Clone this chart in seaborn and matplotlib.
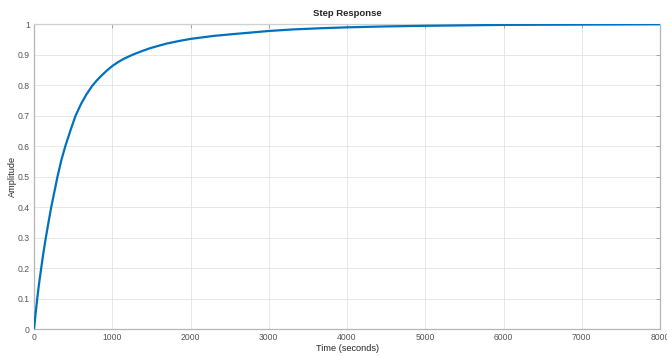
import seaborn as sns
import matplotlib.pyplot as plt
import pandas as pd

time_s = [0, 20, 41, 65, 92, 120, 151, 185, 220, 260, 300, 350, 400, 470, 531,
          600, 670, 744, 800, 860, 930, 1000, 1075, 1150, 1225, 1298, 1400,
          1490, 1600, 1700, 1850, 2000, 2300, 2555, 3000, 3300, 3664, 4000,
          4500, 5000, 5500, 6000, 7000, 8000]
amplitude = [0, 0.05, 0.10, 0.15, 0.20, 0.25, 0.30, 0.35, 0.40, 0.45, 0.50,
             0.555, 0.60, 0.655, 0.70, 0.738, 0.770, 0.798, 0.815, 0.831,
             0.848, 0.863, 0.876, 0.887, 0.896, 0.904, 0.914, 0.922, 0.930,
             0.937, 0.945, 0.952, 0.962, 0.968, 0.978, 0.983, 0.987, 0.990,
             0.993, 0.995, 0.9965, 0.998, 0.999, 1.0]
x_ticks = [0, 1000, 2000, 3000, 4000, 5000, 6000, 7000, 8000]
y_ticks = [0, 0.1, 0.2, 0.3, 0.4, 0.5, 0.6, 0.7, 0.8, 0.9, 1]
final_value = 1.0

df = pd.DataFrame({"Time": time_s, "Amplitude": amplitude})

sns.set_style("whitegrid")
plt.rcParams['font.family'] = ['Liberation Sans', 'DejaVu Sans']

fig = plt.figure(figsize=(6.67, 3.56), dpi=100)
ax = fig.add_axes([0.051, 0.0758, 0.9385, 0.856])

ax.axhline(final_value, color='#999999', lw=0.8, ls=':', zorder=1)
sns.lineplot(x="Time", y="Amplitude", data=df, color='#0072BD', lw=1.6, ax=ax, zorder=3)

ax.set_xlim(0, 8000)
ax.set_ylim(0, 1)
ax.set_xticks(x_ticks)
ax.set_yticks(y_ticks)
ax.set_yticklabels([f"{v:g}" for v in y_ticks])
ax.grid(True, color='#e3e3e3', lw=0.6)
ax.set_axisbelow(True)

for side, sp in ax.spines.items():
    sp.set_color('#b5b5b5')
    sp.set_linewidth(0.9)
ax.spines['top'].set_color('#d0d0d0')

ax.tick_params(axis='both', direction='in', length=3, width=0.6, color='#9a9a9a',
               labelsize=6.2, labelcolor='#555555', top=True, right=True,
               labeltop=False, labelright=False, pad=3)

ax.set_title("Step Response", fontsize=6.8, fontweight='bold', pad=6)
ax.set_xlabel("Time (seconds)", fontsize=6.6, labelpad=1)
ax.set_ylabel("Amplitude", fontsize=6.6, labelpad=0.5)

plt.savefig("out.png", dpi=100)
plt.close()
